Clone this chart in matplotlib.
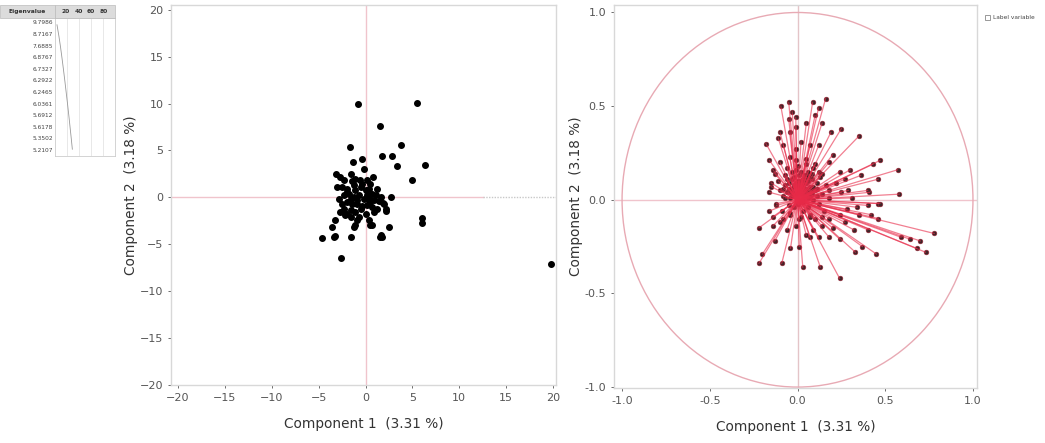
import numpy as np
import matplotlib
matplotlib.use("Agg")
import matplotlib.pyplot as plt
from matplotlib.patches import Ellipse, Rectangle

# 주성분 점수 (Component 1, Component 2)
score_x = [-0.8, 5.5, 1.5, -1.7, 3.8, -1.3, -0.4, 1.8, 2.8, 3.4, 6.3, -0.2, -3.1, 5.0, 0.8,
           2.7, -3.3, 6.0, 6.0, -4.6, -3.3, -1.6, -2.6, 1.5, 2.5, 0.5, -1.1, 2.2, 1.9, 19.8,
           -2.67, -2.31, -1.60, -1.07, -0.60, 0.18, 0.53, -2.49, -1.96, -1.25, -0.53, 0.0,
           0.36, 0.71, -2.31, -1.78, -1.25, -0.71, -0.18, 0.36, 0.89, 1.42, 1.96, -1.96,
           -1.42, -0.89, -0.36, 0.18, 0.71, -2.31, -1.60, -1.07, -0.53, -2.14, -1.60, -2.49,
           -2.85, 1.25, 0.0, -0.89, -1.25, 0.36, 0.71, 1.78, -3.38, 2.14, -1.96, 0.18, -1.07,
           -0.36, 1.07, -3.02, -0.71, -1.60, 0.46, 1.60, -2.0, -1.4, -0.9, -2.7, 0.9, 1.2,
           -3.6, 1.6]
score_y = [10.0, 10.1, 7.6, 5.4, 5.6, 3.8, 4.1, 4.4, 4.4, 3.3, 3.5, 3.0, 2.5, 1.8, 2.2,
           0.0, -2.4, -2.2, -2.7, -4.3, -4.1, -4.2, -6.5, -4.2, -3.2, -2.9, -2.9, -1.5, -0.6, -7.1,
           2.17, 1.82, 2.53, 2.00, 1.82, 1.82, 1.46, 1.11, 0.93, 1.28, 1.11, 0.75,
           0.93, 0.39, 0.21, 0.39, 0.04, 0.21, -0.14, -0.14, -0.32, -0.39, -0.68, -0.50,
           -0.68, -0.75, -0.96, -0.86, -1.03, -1.21, -1.39, -1.57, -1.21, -1.93, -2.10, -0.68,
           -0.14, -1.21, -1.75, -2.46, -3.17, -2.46, -3.0, -4.24, -4.24, -1.21, -1.75, 0.21, 0.75,
           1.46, 0.21, 1.11, -2.10, -0.14, -0.50, 0.04, 0.6, 1.7, -0.3, -1.6, -1.6, 0.9,
           -3.2, -4.0]

# 부하량 (loadings)
load_x = [-0.095, -0.05, 0.086, 0.16, 0.12, -0.01, 0.14, 0.25, 0.19, 0.35, -0.18, 0.47, 0.57,
          0.43, 0.46, 0.58, 0.36, 0.30, 0.41, 0.46, 0.46, 0.78, 0.73, 0.68, 0.70, 0.64, 0.59,
          0.45, 0.37, 0.33, 0.32, 0.24, 0.13, 0.03, -0.09, -0.22, -0.20, -0.22, -0.13, -0.04,
          0.12, -0.16, -0.16, 0.20,
          -0.11, -0.08, -0.045, 0.02, 0.07, 0.12, 0.20, 0.18, 0.24, 0.27, 0.22, 0.18, 0.25,
          0.31, 0.34, 0.28, 0.24, 0.18, 0.14, 0.09, 0.05, -0.01, -0.06, -0.10, -0.14, -0.16,
          -0.15, -0.14, -0.10, -0.045, -0.01, 0.05, 0.10, 0.14, 0.07, 0.01, -0.045, -0.12,
          -0.14, 0.01, 0.07, 0.18, 0.27, 0.35, 0.40, 0.42, 0.40, 0.29, 0.40, 0.47, 0.24,
          -0.05, -0.01, 0.05, 0.10, -0.03, -0.10,
          0.02, 0.05, -0.03, 0.0, 0.07, -0.05, 0.03, 0.09, -0.07, 0.01, 0.06, -0.02, 0.04,
          -0.08, 0.10, 0.12, -0.04, 0.08, -0.10, 0.0, 0.03, -0.01, 0.05, -0.06, 0.11, 0.14,
          0.02, -0.09, 0.07, -0.03, 0.06, -0.11, 0.13, -0.12, 0.15, 0.0, -0.06, 0.09, 0.16,
          -0.13, 0.04, -0.02, 0.08, -0.05, 0.01, 0.10, -0.08, 0.12, -0.01, 0.05, 0.18, -0.15,
          0.03, 0.06, -0.04, 0.02, 0.11, -0.07, 0.14, 0.07,
          0.01, 0.03, -0.02, 0.04, 0.0, 0.02, -0.04, 0.05, 0.06, -0.01, 0.03, 0.08, -0.03,
          0.01, 0.04, -0.06, 0.07, 0.02, -0.02, 0.05, 0.09, -0.05, 0.0, 0.03, 0.06, -0.08,
          0.08, -0.03, 0.02, 0.04, 0.11, -0.07, 0.01, 0.05, -0.01, 0.07, -0.04, 0.03]
load_y = [0.50, 0.52, 0.52, 0.54, 0.49, 0.44, 0.41, 0.38, 0.36, 0.34, 0.30, 0.21, 0.16,
          0.19, 0.11, 0.03, 0.13, 0.16, 0.04, -0.02, -0.10, -0.18, -0.28, -0.26, -0.22, -0.21,
          -0.20, -0.29, -0.25, -0.28, -0.16, -0.42, -0.36, -0.36, -0.34, -0.34, -0.29, -0.15,
          -0.22, -0.26, -0.20, 0.21, -0.06, -0.15,
          0.33, 0.29, 0.36, 0.31, 0.29, 0.29, 0.24, 0.20, 0.15, 0.11, 0.09, 0.05, 0.04,
          0.01, -0.04, -0.05, -0.08, -0.10, -0.14, -0.16, -0.19, -0.14, -0.16, -0.12, -0.09,
          0.04, 0.09, 0.16, 0.20, 0.23, 0.27, 0.22, 0.19, 0.14, -0.09, -0.10, -0.08, -0.03,
          -0.14, -0.25, -0.20, -0.20, -0.12, -0.08, -0.03, -0.08, -0.16, 0.05, 0.05, -0.02,
          -0.21, 0.43, 0.39, 0.41, 0.45, 0.47, 0.36,
          0.05, 0.02, 0.04, -0.02, 0.07, -0.03, -0.06, 0.0, 0.08, 0.10, -0.04, 0.12, 0.13,
          0.02, 0.05, -0.02, -0.07, 0.11, 0.05, 0.07, 0.01, 0.03, 0.09, 0.11, 0.09, 0.03,
          -0.09, -0.06, -0.08, 0.15, 0.15, 0.10, 0.12, -0.02, -0.06, 0.18, 0.17, 0.17, 0.08,
          0.14, 0.06, -0.04, 0.03, 0.06, -0.01, -0.10, -0.10, 0.15, 0.21, 0.19, 0.01, 0.07,
          0.08, 0.04, 0.01, 0.03, 0.02, 0.13, -0.09, 0.12,
          0.06, 0.04, 0.08, 0.02, 0.10, 0.07, 0.05, 0.06, 0.01, 0.09, 0.11, 0.05, 0.02,
          0.13, 0.09, 0.04, 0.03, 0.00, 0.07, 0.12, 0.07, 0.09, 0.04, -0.01, 0.10, 0.06,
          0.14, 0.11, 0.15, 0.03, 0.06, 0.01, 0.08, 0.13, 0.16, 0.02, 0.04, 0.10]

# 고유값 표
eigenvalues = ["9.7986", "8.7167", "7.6885", "6.8767", "6.7327", "6.2922",
               "6.2465", "6.0361", "5.6912", "5.6178", "5.3502", "5.2107"]
cum_pct = [3.3, 6.5, 9.3, 11.8, 14.2, 16.5, 18.7, 20.9, 23.0, 25.0, 27.0, 28.9]
pct_ticks = ["20", "40", "60", "80"]

W, H = 1045, 443
fig = plt.figure(figsize=(W / 100, H / 100), dpi=100)


def px(x0, y0, x1, y1):
    # 픽셀 좌표 -> figure 좌표
    return [x0 / W, 1 - y1 / H, (x1 - x0) / W, (y1 - y0) / H]


def fx(x):
    return x / W


def fy(y):
    return 1 - y / H


frame_c = "#d8d8d8"
tick_c = "#555555"
ref_c = "#f0c4cc"


def style(ax):
    for s in ax.spines.values():
        s.set_color(frame_c)
        s.set_linewidth(1)
    ax.tick_params(colors=tick_c, labelsize=8, length=2, width=0.6)
    for t in ax.get_xticklabels() + ax.get_yticklabels():
        t.set_color(tick_c)


# [1] 점수 그림
ax1 = fig.add_axes(px(171, 5, 556, 385))
ax1.set_xlim(-20.75, 20.32)
ax1.set_ylim(-20.0, 20.5)
ax1.axvline(0, color=ref_c, lw=1, zorder=1)
ax1.plot([-20.75, 12.5], [0, 0], color=ref_c, lw=1, zorder=1)
ax1.plot([12.5, 20.32], [0, 0], color="#c8c8c8", lw=1, ls=(0, (1, 1)), zorder=1)
ax1.scatter(score_x, score_y, s=16, color="black", zorder=3)
ax1.set_xticks(np.arange(-20, 21, 5))
ax1.set_yticks(np.arange(-20, 21, 5))
ax1.set_xlabel("Component 1  (3.31 %)", fontsize=9.8, color="#333333", labelpad=10)
ax1.set_ylabel("Component 2  (3.18 %)", fontsize=9.8, color="#333333", labelpad=1)
style(ax1)

# [2] 부하량 그림 (선이 점 위에 그려짐)
ax2 = fig.add_axes(px(614, 5, 977, 388))
ax2.set_xlim(-1.046, 1.023)
ax2.set_ylim(-1.005, 1.04)
ax2.axvline(0, color="#e4c4c8", lw=1, zorder=1)
ax2.axhline(0, color=ref_c, lw=1, zorder=1)
ax2.add_patch(Ellipse((0, 0), 2, 2, fill=False, ec="#e8aab4", lw=1, zorder=1))
ax2.plot(load_x, load_y, "o", ms=3.4, mfc="#3e2428", mec="#a02838", mew=0.4, zorder=2)
for lx, ly in zip(load_x, load_y):
    ax2.plot([0, lx], [0, ly], color="#e82a48", lw=0.9, alpha=0.6, zorder=3)
ax2.set_xticks([-1.0, -0.5, 0.0, 0.5, 1.0])
ax2.set_yticks([-1.0, -0.5, 0.0, 0.5, 1.0])
ax2.set_xticklabels(["-1.0", "-0.5", "0.0", "0.5", "1.0"])
ax2.set_yticklabels(["-1.0", "-0.5", "0.0", "0.5", "1.0"])
ax2.set_xlabel("Component 1  (3.31 %)", fontsize=9.8, color="#333333", labelpad=10)
ax2.set_ylabel("Component 2  (3.18 %)", fontsize=9.8, color="#333333", labelpad=1)
style(ax2)

# [3] 범례
fig.patches.append(Rectangle((fx(985), fy(20)), 5 / W, 5 / H, transform=fig.transFigure,
                             fill=False, ec="#888888", lw=0.6))
fig.text(fx(993), fy(17.5), "Label variable", fontsize=4.2, color="#444444", va="center")

# [4] 고유값 표
fig.patches.append(Rectangle((fx(0), fy(18)), 55 / W, 13 / H, transform=fig.transFigure,
                             fc="#dcdcdc", ec="#bbbbbb", lw=0.5))
fig.patches.append(Rectangle((fx(55), fy(18)), 60 / W, 13 / H, transform=fig.transFigure,
                             fc="#dcdcdc", ec="#bbbbbb", lw=0.5))
fig.text(fx(27), fy(11.5), "Eigenvalue", fontsize=4.3, weight="bold", ha="center",
         va="center", color="#333333")
bar = fig.add_axes(px(55, 18, 115, 156))
bar.set_xlim(0, 100)
bar.set_ylim(len(eigenvalues) - 0.4, -0.6)
for g in [20, 40, 60, 80]:
    bar.axvline(g, color="#e4e4e4", lw=0.6)
bar.set_xticks([])
bar.set_yticks([])
for s in bar.spines.values():
    s.set_color("#cccccc")
    s.set_linewidth(0.6)
for i, t in enumerate(pct_ticks):
    fig.text(fx(66 + i * 12.5), fy(11.5), t, fontsize=4.3, weight="bold", ha="center",
             va="center", color="#333333")
for i, v in enumerate(eigenvalues):
    fig.text(fx(53), fy(23 + i * 11.6), v, fontsize=4.2, ha="right", va="center",
             color="#444444")
bar.plot(cum_pct, range(len(cum_pct)), color="#999999", lw=0.6)

fig.savefig("out.png", dpi=100)
